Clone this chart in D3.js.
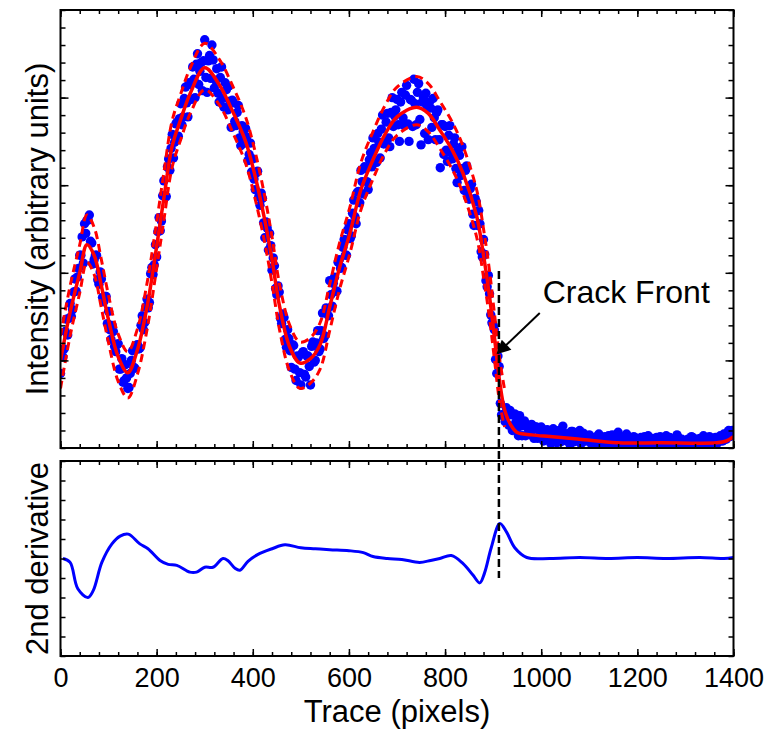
<!DOCTYPE html>
<html>
<head>
<meta charset="UTF-8">
<script src="https://d3js.org/d3.v7.min.js"></script>
<style>
  body { margin: 0; background: #fff; font-family: Arial, "Liberation Sans", sans-serif; }
  text { font-family: Arial, "Liberation Sans", sans-serif; fill: #000; }
</style>
</head>
<body>
<svg id="chart"></svg>
<script>
// fitted intensity (solid red) and confidence bounds (dashed red)
const fitT = [0, 20, 40, 55, 70, 85, 100, 120, 140, 160, 180, 200, 215, 232, 250, 270, 300, 330, 360, 385,
  405, 425, 440, 456, 477, 498, 520, 540, 560, 580, 602, 625, 650, 675, 700, 741, 765, 789, 815, 837,
  866, 880, 892, 903, 914, 924, 936, 949, 980, 1018, 1080, 1157, 1250, 1365, 1385, 1400];
const fitV = [1.0, 1.55, 2.0, 2.32, 2.2, 1.85, 1.46, 1.04, 0.86, 1.12, 1.61, 2.3, 2.85, 3.44, 3.75, 4.05, 4.34, 4.15, 3.82, 3.5,
  3.1, 2.6, 2.15, 1.61, 1.15, 0.97, 1.02, 1.18, 1.61, 2.05, 2.45, 2.95, 3.29, 3.58, 3.78, 3.89, 3.82, 3.63, 3.4, 3.14,
  2.64, 2.2, 1.75, 1.25, 0.74, 0.43, 0.27, 0.18, 0.15, 0.13, 0.1, 0.06, 0.06, 0.06, 0.08, 0.13];
const boundT = [0, 20, 40, 55, 70, 85, 100, 120, 140, 160, 180, 200, 215, 232, 250, 270, 300, 330, 360, 385,
  405, 425, 440, 456, 477, 498, 520, 540, 560, 580, 602, 625, 650, 675, 700, 741, 765, 789, 815, 837,
  866, 880, 892, 903, 914, 924];
const upperV = [1.28, 1.85, 2.32, 2.66, 2.52, 2.15, 1.74, 1.3, 1.1, 1.36, 1.88, 2.58, 3.14, 3.73, 4.04, 4.34, 4.62, 4.44, 4.11, 3.78,
  3.38, 2.87, 2.41, 1.86, 1.4, 1.21, 1.26, 1.43, 1.87, 2.33, 2.75, 3.26, 3.61, 3.91, 4.12, 4.24, 4.16, 3.96, 3.72, 3.45,
  2.94, 2.5, 2.04, 1.52, 1.0, 0.66];
const lowerV = [0.68, 1.28, 1.77, 2.12, 1.98, 1.6, 1.2, 0.76, 0.57, 0.84, 1.35, 2.05, 2.6, 3.2, 3.52, 3.82, 4.09, 3.92, 3.58, 3.25,
  2.84, 2.34, 1.88, 1.34, 0.87, 0.68, 0.74, 0.9, 1.34, 1.8, 2.22, 2.72, 3.07, 3.37, 3.57, 3.69, 3.61, 3.42, 3.18, 2.91,
  2.4, 1.95, 1.5, 1.0, 0.5, 0.24];

// measured intensity, sampled every 5 trace pixels (0..1400)
const scatterStep = 5;
const scatterA = [
  0.85, 1.04, 1.33, 1.29, 1.65, 1.58, 1.93, 1.95, 2.2, 2.41, 2.56, 2.6, 2.66, 2.34, 2.15, 2.2, 1.87, 1.93, 1.67, 1.73,
  1.56, 1.24, 1.33, 1.1, 1.19, 0.9, 0.75, 0.95, 0.68, 0.85, 1.11, 0.91, 1.18, 1.14, 1.51, 1.43, 1.7, 1.66, 2.06, 2.09,
  2.18, 2.63, 2.59, 3.05, 2.87, 3.3, 3.42, 3.31, 3.7, 3.56, 3.93, 3.78, 4.12, 3.78, 4.15, 4.35, 4.0, 4.5, 4.3, 4.08,
  4.66, 4.06, 4.48, 4.6, 4.11, 4.33, 3.95, 4.35, 3.89, 4.09, 4.13, 3.66, 3.94, 3.68, 3.91, 3.45, 3.61, 3.65, 3.28, 3.48,
  3.3, 2.95, 3.16, 2.77, 2.85, 2.4, 2.51, 2.45, 2.03, 2.08, 1.75, 1.78, 1.42, 1.49, 1.15, 1.25, 0.92, 1.17, 0.77, 1.04,
  0.72, 1.1, 0.81, 1.05, 0.72, 1.21, 1.0, 1.34, 1.13, 1.54, 1.28, 1.58, 1.91, 1.62, 1.95, 1.79, 2.15, 2.06, 2.38, 2.2,
  2.56, 2.42, 2.83, 2.56, 2.93, 3.17, 2.9, 3.19, 2.95, 3.37, 3.54, 3.27, 3.59, 3.31, 3.8, 3.48, 3.82, 3.44, 4.0, 3.79,
  3.98, 3.5, 4.06, 3.68, 4.14, 3.5, 3.97, 4.21, 3.69, 4.16, 3.46, 4.0, 4.05, 3.52, 3.88, 3.99, 3.52, 3.86, 3.2, 3.69,
  3.67, 3.27, 3.68, 3.3, 3.54, 3.03, 3.34, 3.44, 2.94, 3.22, 2.84, 3.01, 2.54, 2.81, 2.71, 2.24, 2.38, 1.91, 1.97, 1.52,
  1.4, 1.01, 1.05, 0.51, 0.37, 0.3, 0.43, 0.43, 0.2, 0.39, 0.23, 0.37, 0.14, 0.31, 0.24, 0.19, 0.27, 0.11, 0.24, 0.2,
  0.24, 0.08, 0.2, 0.15, 0.05, 0.22, 0.12, 0.18, 0.07, 0.25, 0.11, 0.16, 0.04, 0.19, 0.09, 0.14, 0.2, 0.06, 0.13, 0.08,
  0.15, 0.04, 0.11, 0.07, 0.16, 0.03, 0.1, 0.05, 0.14, 0.02, 0.12, 0.08, 0.18, 0.04, 0.09, 0.06, 0.13, 0.02, 0.1, 0.05,
  0.11, 0.03, 0.08, 0.13, 0.04, 0.1, 0.02, 0.07, 0.12, 0.05, 0.09, 0.03, 0.14, 0.06, 0.02, 0.1, 0.04, 0.12, 0.06, 0.08,
  0.03, 0.1, 0.05, 0.12, 0.02, 0.08, 0.11, 0.04, 0.09, 0.06, 0.13, 0.03, 0.1, 0.05, 0.08, 0.12, 0.16, 0.1, 0.2, 0.15,
  0.18
];
// second pass of samples, offset by half a step (2.5, 7.5, ... 1397.5)
const scatterB = [
  1.12, 1.13, 1.47, 1.48, 1.5, 1.78, 1.79, 2.05, 2.2, 2.11, 2.45, 2.6, 2.36, 2.1, 2.2, 1.92, 2.01, 1.72, 1.73, 1.42,
  1.35, 1.4, 1.16, 1.18, 0.9, 1.02, 0.77, 0.8, 0.69, 1.0, 0.92, 1.17, 1.13, 1.4, 1.35, 1.61, 1.6, 1.99, 1.98, 2.32,
  2.47, 2.48, 2.88, 2.88, 3.21, 3.17, 3.58, 3.49, 3.72, 3.76, 3.69, 3.99, 3.94, 4.17, 3.98, 4.21, 4.38, 4.15, 4.4, 4.42,
  4.23, 4.42, 4.22, 4.43, 4.2, 4.05, 4.23, 3.99, 4.17, 3.86, 3.96, 3.97, 3.73, 3.83, 3.54, 3.68, 3.48, 3.55, 3.35, 3.15,
  3.07, 3.14, 2.87, 2.91, 2.57, 2.58, 2.26, 2.31, 2.17, 1.82, 1.85, 1.48, 1.53, 1.24, 1.35, 1.11, 1.18, 0.9, 1.05, 0.86,
  1.08, 0.84, 1.05, 0.93, 1.16, 0.98, 1.2, 1.1, 1.34, 1.25, 1.6, 1.51, 1.75, 1.88, 1.79, 2.12, 2.05, 2.29, 2.2, 2.49,
  2.39, 2.68, 2.64, 2.92, 2.8, 3.04, 3.21, 3.04, 3.29, 3.21, 3.42, 3.26, 3.49, 3.64, 3.47, 3.72, 3.54, 3.83, 3.67, 3.86,
  3.69, 3.95, 3.77, 4.03, 3.7, 3.98, 3.67, 3.93, 4.06, 3.75, 3.95, 3.59, 3.9, 3.95, 3.66, 3.77, 3.83, 3.52, 3.69, 3.35,
  3.4, 3.57, 3.37, 3.47, 3.19, 3.4, 3.11, 3.19, 3.17, 2.86, 2.96, 2.67, 2.85, 2.54, 2.56, 2.18, 2.21, 1.84, 1.76, 1.43,
  1.35, 0.85, 0.93, 0.38, 0.38, 0.46, 0.26, 0.38, 0.25, 0.3, 0.14, 0.25, 0.28, 0.14, 0.25, 0.15, 0.21, 0.24, 0.11, 0.22,
  0.16, 0.1, 0.21, 0.09, 0.18, 0.13, 0.06, 0.2, 0.12, 0.17, 0.08, 0.14, 0.19, 0.07, 0.15, 0.11, 0.05, 0.17, 0.1, 0.13,
  0.07, 0.12, 0.03, 0.14, 0.09, 0.06, 0.13, 0.02, 0.1, 0.15, 0.05, 0.11, 0.04, 0.12, 0.08, 0.16, 0.03, 0.09, 0.13, 0.04,
  0.06, 0.12, 0.04, 0.09, 0.14, 0.02, 0.11, 0.06, 0.03, 0.13, 0.07, 0.1, 0.04, 0.12, 0.08, 0.05, 0.15, 0.03, 0.1, 0.06,
  0.09, 0.04, 0.13, 0.06, 0.1, 0.03, 0.08, 0.14, 0.05, 0.11, 0.02, 0.09, 0.12, 0.06, 0.14, 0.08, 0.11, 0.18, 0.13, 0.2
];

// second derivative trace
const derivT = [5, 20, 36, 57, 68, 86, 107, 124, 141, 165, 182, 207, 224, 242, 269, 283, 300, 317, 338, 348,
  363, 373, 390, 410, 440, 467, 500, 530, 560, 600, 630, 650, 680, 710, 747, 770, 789, 813, 837, 858,
  872, 882, 896, 914, 928, 945, 970, 1018, 1080, 1140, 1200, 1260, 1330, 1380, 1400];
const derivV = [0.0, -0.04, -0.31, -0.4, -0.33, -0.04, 0.15, 0.23, 0.25, 0.15, 0.1, -0.02, -0.06, -0.07, -0.14, -0.14, -0.09, -0.09, 0.0, -0.02,
  -0.1, -0.12, -0.03, 0.04, 0.1, 0.14, 0.11, 0.1, 0.09, 0.08, 0.06, 0.02, 0.0, -0.01, -0.04, -0.02, 0.0, 0.03, -0.05, -0.17,
  -0.25, -0.15, 0.11, 0.36, 0.27, 0.11, 0.01, 0.0, 0.01, 0.0, 0.01, 0.0, 0.01, 0.0, 0.01];

// crack front marker
const crackT = 912;
const crackTopV = 2.02;     // intensity units
const crackBottomV = -0.2;  // derivative units
const arrowFrom = [997, 1.54];
const arrowTo = [909, 1.08];
const labelAt = [1003, 1.66];

const xTicks = [0, 200, 400, 600, 800, 1000, 1200, 1400];

const width = 771, height = 735;
const left = 60.5, right = 733.5;
const topPanel = { top: 10, bottom: 448 };
const botPanel = { top: 461, bottom: 656 };

const svg = d3.select("#chart").attr("width", width).attr("height", height)
  .style("background", "#fff");

const x = d3.scaleLinear().domain([0, 1400]).range([left, right]);
const yTop = d3.scaleLinear().domain([0, 5]).range([topPanel.bottom, topPanel.top]);
const yBot = d3.scaleLinear().domain([-1, 1]).range([botPanel.bottom, botPanel.top]);

const defs = svg.append("defs");
defs.append("clipPath").attr("id", "clipTop")
  .append("rect").attr("x", left).attr("y", topPanel.top)
  .attr("width", right - left).attr("height", topPanel.bottom - topPanel.top);

const minorX = d3.range(0, 1401, 40);

function ticks(g, axis, vals, size) {
  g.call(axis.tickValues(vals).tickSize(size).tickFormat(""))
    .call(a => a.select(".domain").remove())
    .call(a => a.selectAll(".tick line").attr("stroke", "#000").attr("stroke-width", 1.5));
}

function frame(yScale, p, minorY, majorY) {
  const g = svg.append("g");
  ticks(g.append("g").attr("transform", `translate(0,${p.bottom})`), d3.axisBottom(x), minorX, -4);
  ticks(g.append("g").attr("transform", `translate(0,${p.bottom})`), d3.axisBottom(x), xTicks, -7);
  ticks(g.append("g").attr("transform", `translate(0,${p.top})`), d3.axisTop(x), minorX, -4);
  ticks(g.append("g").attr("transform", `translate(0,${p.top})`), d3.axisTop(x), xTicks, -7);
  ticks(g.append("g").attr("transform", `translate(${left},0)`), d3.axisLeft(yScale), minorY, -5);
  ticks(g.append("g").attr("transform", `translate(${right},0)`), d3.axisRight(yScale), minorY, -5);
  if (majorY.length) {
    ticks(g.append("g").attr("transform", `translate(${left},0)`), d3.axisLeft(yScale), majorY, -8);
    ticks(g.append("g").attr("transform", `translate(${right},0)`), d3.axisRight(yScale), majorY, -8);
  }
  g.append("rect").attr("x", left).attr("y", p.top)
    .attr("width", right - left).attr("height", p.bottom - p.top)
    .attr("fill", "none").attr("stroke", "#000").attr("stroke-width", 2);
}

// top panel
const plotTop = svg.append("g").attr("clip-path", "url(#clipTop)");

const points = scatterA.map((v, i) => [i * scatterStep, v])
  .concat(scatterB.map((v, i) => [i * scatterStep + scatterStep / 2, v]));

plotTop.selectAll("circle")
  .data(points)
  .enter()
  .append("circle")
  .attr("cx", d => x(d[0]))
  .attr("cy", d => yTop(d[1]))
  .attr("r", 4.7)
  .attr("fill", "#0000ff");

const lineTop = d3.line().x(d => x(d[0])).y(d => yTop(d[1])).curve(d3.curveCatmullRom);

[upperV, lowerV].forEach(vals => {
  plotTop.append("path")
    .datum(boundT.map((t, i) => [t, vals[i]]))
    .attr("d", lineTop)
    .attr("fill", "none")
    .attr("stroke", "#ff0000")
    .attr("stroke-width", 3)
    .attr("stroke-dasharray", "8,5");
});

plotTop.append("path")
  .datum(fitT.map((t, i) => [t, fitV[i]]))
  .attr("d", lineTop)
  .attr("fill", "none")
  .attr("stroke", "#ff0000")
  .attr("stroke-width", 3.5);

frame(yTop, topPanel, d3.range(0, 5.01, 0.2), [1, 2, 3, 4]);

// bottom panel
svg.append("path")
  .datum(derivT.map((t, i) => [t, derivV[i]]))
  .attr("d", d3.line().x(d => x(d[0])).y(d => yBot(d[1])).curve(d3.curveCatmullRom))
  .attr("fill", "none")
  .attr("stroke", "#0000ff")
  .attr("stroke-width", 3);

frame(yBot, botPanel, d3.range(-1, 1.01, 0.2), []);

// x tick labels
svg.append("g")
  .attr("transform", `translate(0,${botPanel.bottom})`)
  .call(d3.axisBottom(x).tickValues(xTicks).tickSize(0).tickPadding(12).tickFormat(d3.format("d")))
  .call(g => g.select(".domain").remove())
  .call(g => g.selectAll("text").style("font-size", "27px").attr("fill", "#000"));

// axis titles
svg.append("text")
  .attr("x", (left + right) / 2)
  .attr("y", 722)
  .attr("text-anchor", "middle")
  .style("font-size", "31px")
  .text("Trace (pixels)");

svg.append("text")
  .attr("transform", `translate(48,${(topPanel.top + topPanel.bottom) / 2}) rotate(-90)`)
  .attr("text-anchor", "middle")
  .style("font-size", "31px")
  .text("Intensity (arbitrary units)");

svg.append("text")
  .attr("transform", `translate(48,${(botPanel.top + botPanel.bottom) / 2}) rotate(-90)`)
  .attr("text-anchor", "middle")
  .style("font-size", "31px")
  .text("2nd derivative");

// crack front
svg.append("line")
  .attr("x1", x(crackT)).attr("x2", x(crackT))
  .attr("y1", yTop(crackTopV)).attr("y2", yBot(crackBottomV))
  .attr("stroke", "#000")
  .attr("stroke-width", 2.5)
  .attr("stroke-dasharray", "8,4");

defs.append("marker")
  .attr("id", "arrow")
  .attr("viewBox", "0 0 10 10")
  .attr("refX", 9).attr("refY", 5)
  .attr("markerWidth", 8).attr("markerHeight", 7)
  .attr("markerUnits", "strokeWidth")
  .attr("orient", "auto")
  .append("path")
  .attr("d", "M0,0 L10,5 L0,10 z")
  .attr("fill", "#000");

svg.append("line")
  .attr("x1", x(arrowFrom[0])).attr("y1", yTop(arrowFrom[1]))
  .attr("x2", x(arrowTo[0])).attr("y2", yTop(arrowTo[1]))
  .attr("stroke", "#000")
  .attr("stroke-width", 2)
  .attr("marker-end", "url(#arrow)");

svg.append("text")
  .attr("x", x(labelAt[0]))
  .attr("y", yTop(labelAt[1]))
  .style("font-size", "32px")
  .text("Crack Front");
</script>
</body>
</html>
